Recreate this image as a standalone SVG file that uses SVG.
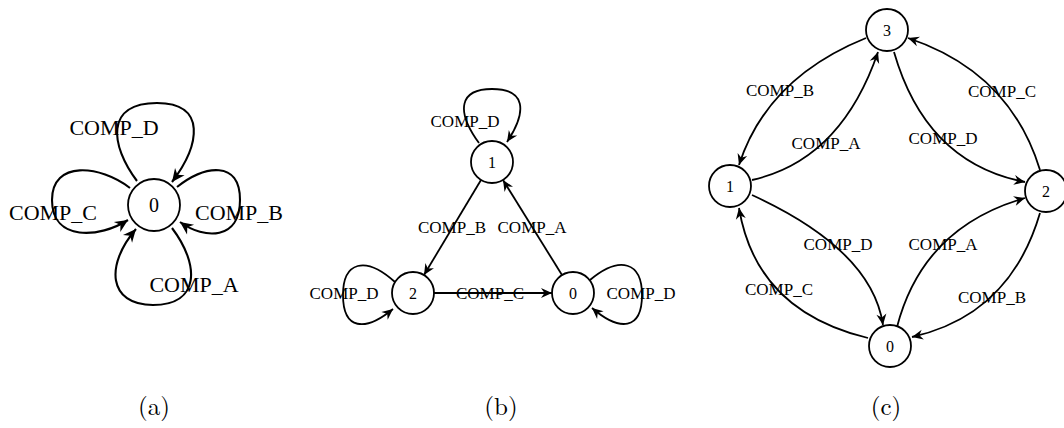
<svg xmlns="http://www.w3.org/2000/svg" width="1064" height="428" viewBox="0 0 1064 428">
<style>
  .node circle { fill: #fff; stroke: #000; stroke-width: 1.8; }
  .nl { font-family: "Liberation Serif", serif; text-anchor: middle; fill: #000; }
  .edges path { fill: none; stroke: #000; }
  .ea path { stroke-width: 2.1; marker-end: url(#arrA); }
  .eb path { stroke-width: 1.8; marker-end: url(#arrB); }
  .lbl { font-family: "Liberation Serif", serif; text-anchor: middle; fill: #000; }
  .la { font-size: 22px; }
  .lb { font-size: 17px; }
  .cap { font-family: "Latin Modern Roman", "Liberation Serif", serif; font-size: 25px; text-anchor: middle; fill: #000; }
</style>
<defs>
  <marker id="arrA" markerUnits="userSpaceOnUse" orient="auto" viewBox="-14 -7 15 14" refX="0" refY="0" markerWidth="15" markerHeight="14" overflow="visible">
    <path d="M0,0 L-13,-6 L-9,0 L-13,6 Z" fill="#000"/>
  </marker>
  <marker id="arrB" markerUnits="userSpaceOnUse" orient="auto" viewBox="-12 -6 13 12" refX="0" refY="0" markerWidth="13" markerHeight="12" overflow="visible">
    <path d="M0,0 L-11,-5 L-7.5,0 L-11,5 Z" fill="#000"/>
  </marker>
</defs>
<rect width="1064" height="428" fill="#fff"/>

<!-- connectors -->
<g id="connectors" class="edges">
  <g class="ea">
    <path d="M137,181 C110,145 105,103 157,103 C207,103 200,145 172,182"/>
    <path d="M177,187 C205,165 240,160 240,200 C240,240 205,240 180,222"/>
    <path d="M130,188 C100,165 52,160 52,200 C52,242 100,238 128,220"/>
    <path d="M172,228 C200,265 200,305 153,305 C108,305 105,265 136,229"/>
  </g>
  <g class="eb">
    <path d="M479,143 C455,110 460,89 492,89 C525,89 528,110 507,142"/>
    <path d="M395,282 C365,255 343,262 343,295 C343,330 365,332 393,309"/>
    <path d="M590,280 C620,255 642,262 642,295 C642,330 620,332 592,308"/>
    <path d="M481,180 L424,275"/>
    <path d="M562,275 L503,180"/>
    <path d="M434,293 L552,293"/>

    <path d="M866,38 Q767,78 739,165"/>
    <path d="M1040,170 Q1010,72 908,38"/>
    <path d="M868,338 Q756,311 739,208"/>
    <path d="M1040,213 Q1010,315 912,337"/>
    <path d="M752,180 Q841,160 878,52"/>
    <path d="M894,52 Q926,163 1025,182"/>
    <path d="M752,195 Q872,250 883,325"/>
    <path d="M897,327 Q923,227 1025,198"/>
  </g>
</g>

<!-- panel (a) -->
<g id="a-n0" class="node"><circle cx="154" cy="205" r="26"/><text class="nl" x="154" y="212" font-size="20">0</text></g>
<g id="a-labels">
  <text class="lbl la" x="114" y="135">COMP_D</text>
  <text class="lbl la" x="53" y="220">COMP_C</text>
  <text class="lbl la" x="239" y="220">COMP_B</text>
  <text class="lbl la" x="194" y="292">COMP_A</text>
</g>

<!-- panel (b) -->
<g id="b-n1" class="node"><circle cx="492" cy="162" r="21"/><text class="nl" x="492" y="168" font-size="16">1</text></g>
<g id="b-n2" class="node"><circle cx="413" cy="293" r="21"/><text class="nl" x="413" y="299" font-size="16">2</text></g>
<g id="b-n0" class="node"><circle cx="573" cy="293" r="21"/><text class="nl" x="573" y="299" font-size="16">0</text></g>
<g id="b-labels">
  <text class="lbl lb" x="465" y="127">COMP_D</text>
  <text class="lbl lb" x="452" y="233">COMP_B</text>
  <text class="lbl lb" x="532" y="233">COMP_A</text>
  <text class="lbl lb" x="490" y="299">COMP_C</text>
  <text class="lbl lb" x="344" y="299">COMP_D</text>
  <text class="lbl lb" x="641" y="299">COMP_D</text>
</g>

<!-- panel (c) -->
<g id="c-n3" class="node"><circle cx="887" cy="30" r="21"/><text class="nl" x="887" y="36" font-size="16">3</text></g>
<g id="c-n1" class="node"><circle cx="730" cy="186" r="21"/><text class="nl" x="730" y="192" font-size="16">1</text></g>
<g id="c-n2" class="node"><circle cx="1046" cy="191" r="21"/><text class="nl" x="1046" y="197" font-size="16">2</text></g>
<g id="c-n0" class="node"><circle cx="890" cy="346" r="21"/><text class="nl" x="890" y="352" font-size="16">0</text></g>
<g id="c-labels">
  <text class="lbl lb" x="780" y="96">COMP_B</text>
  <text class="lbl lb" x="826" y="149">COMP_A</text>
  <text class="lbl lb" x="943" y="144">COMP_D</text>
  <text class="lbl lb" x="1002" y="97">COMP_C</text>
  <text class="lbl lb" x="838" y="250">COMP_D</text>
  <text class="lbl lb" x="943" y="250">COMP_A</text>
  <text class="lbl lb" x="779" y="295">COMP_C</text>
  <text class="lbl lb" x="992" y="303">COMP_B</text>
</g>

<!-- captions -->
<text class="cap" x="154" y="415">(a)</text>
<text class="cap" x="501" y="415">(b)</text>
<text class="cap" x="886" y="415">(c)</text>
</svg>
